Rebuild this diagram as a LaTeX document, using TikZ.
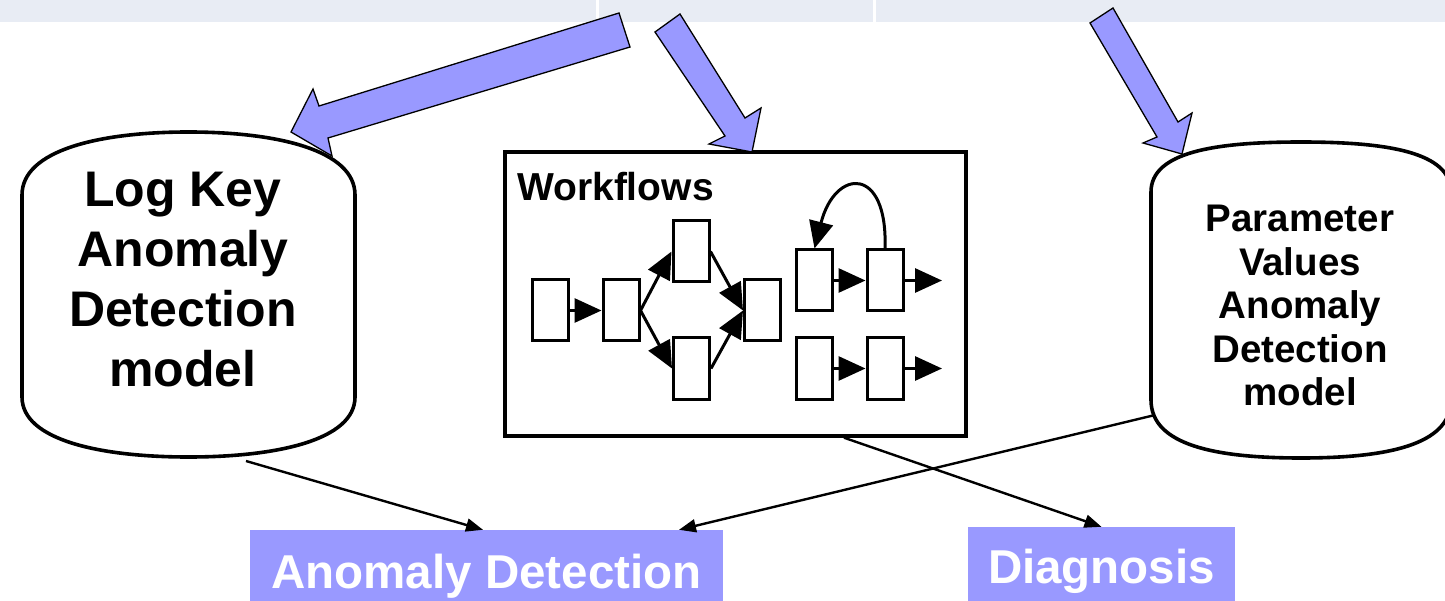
\documentclass[tikz,border=0pt]{standalone}
\usepackage{fontspec}
\setmainfont{Liberation Sans}
\usetikzlibrary{arrows.meta}
\definecolor{band}{HTML}{E8ECF4}
\definecolor{lav}{HTML}{9999FF}
\begin{document}
\begin{tikzpicture}[x=1pt,y=-1pt,
  blockarrow/.style={fill=lav,draw=black,line width=1.3pt,line join=miter},
  can/.style={draw=black,line width=3.6pt,fill=white},
  wfbox/.style={draw=black,line width=3pt,minimum width=36pt,minimum height=61pt,inner sep=0pt},
  wfarrow/.style={line width=3pt,-{Triangle[length=27pt,width=24pt]}},
  conn/.style={line width=2.4pt,-{Triangle[length=17pt,width=13pt]}},
  resbox/.style={fill=lav,text=white,font=\bfseries\fontsize{47.5}{56}\selectfont,inner sep=0pt},
]
\useasboundingbox (0,0) rectangle (1445,601);
% top band
\fill[band] (0,0) rectangle (1445,22);
\draw[white,line width=3pt] (597,0) -- (597,22);
\draw[white,line width=3pt] (874,0) -- (874,22);

% left cylinder
\draw[can] (22,195) .. controls (22,150) and (100,132) .. (188.5,132)
  .. controls (277,132) and (355,150) .. (355,195)
  -- (355,397) .. controls (355,440) and (277,457) .. (188.5,457)
  .. controls (100,457) and (22,440) .. (22,397) -- cycle;
\node[font=\bfseries\fontsize{50}{60}\selectfont,align=center,anchor=north,inner sep=0pt] (lk) at (183,172)
  {Log Key\\Anomaly\\Detection\\model};

% right cylinder
\draw[can] (1151,192) .. controls (1151,152) and (1215,142) .. (1301,142)
  .. controls (1387,142) and (1451,152) .. (1451,192)
  -- (1451,400) .. controls (1451,445) and (1387,458) .. (1301,458)
  .. controls (1215,458) and (1151,445) .. (1151,400) -- cycle;
\node[font=\bfseries\fontsize{38.5}{43.5}\selectfont,align=center,anchor=north,inner sep=0pt] (pv) at (1300,205)
  {Parameter\\Values\\Anomaly\\Detection\\model};

% workflows box
\node[draw=black,line width=3.4pt,minimum width=461pt,minimum height=284pt,inner sep=0pt] (wf) at (735.5,294) {};
\node[anchor=base west,font=\bfseries\fontsize{39}{47}\selectfont,inner sep=0pt] (wft) at (517,201) {Workflows};

\node[wfbox] (A) at (550.5,310.5) {};
\node[wfbox] (B) at (621,310.5) {};
\node[wfbox] (C) at (691,251.5) {};
\node[wfbox] (D) at (691.5,368.5) {};
\node[wfbox] (E) at (762.5,310.5) {};
\node[wfbox] (F) at (814.5,280.5) {};
\node[wfbox] (G) at (885,280.5) {};
\node[wfbox] (H) at (814.5,368.5) {};
\node[wfbox] (I) at (885,368.5) {};
\coordinate (gout) at (942,280.5);
\coordinate (iout) at (942,368.5);

\draw[wfarrow] (A.east) -- (B.west);
\draw[wfarrow] (B.east) -- (C.west);
\draw[wfarrow] (B.east) -- (D.west);
\draw[wfarrow] (C.east) -- (E.west);
\draw[wfarrow] (D.east) -- (E.west);
\draw[wfarrow] (F.east) -- (G.west);
\draw[wfarrow] (G.east) -- (gout);
\draw[wfarrow] (H.east) -- (I.west);
\draw[wfarrow] (I.east) -- (iout);
\draw[wfarrow] (G.north) .. controls (888,165) and (835,168) .. (F.north);

% result boxes
\node[resbox,minimum width=473pt,text height=58pt,text depth=17pt,anchor=base] (ad) at (486.5,588) {Anomaly Detection};
\node[resbox,minimum width=267pt,text height=56pt,text depth=22pt,anchor=base] (dg) at (1101.5,583) {Diagnosis};

% connectors
\coordinate (lkb) at (246,461);
\coordinate (pvb) at (1155,415);
\draw[conn] (lkb) -- ([xshift=-3.5pt]ad.north);
\draw[conn] (pvb) -- ([xshift=192.5pt]ad.north);
\draw[conn] ([xshift=108.5pt]wf.south) -- (dg.north);

% block arrows
\draw[blockarrow] (619,13) -- (319,106) -- (313,89) -- (291,132) -- (332,156) -- (328,138) -- (630,47) -- cycle;
\draw[blockarrow] (680,14) -- (745,118) -- (761,108) -- (752,152) -- (709,144) -- (725,136) -- (655,32) -- cycle;
\draw[blockarrow] (1113,8) -- (1178,122) -- (1192,113) -- (1182,154) -- (1143,143) -- (1157,137) -- (1090,23) -- cycle;
\end{tikzpicture}
\end{document}
